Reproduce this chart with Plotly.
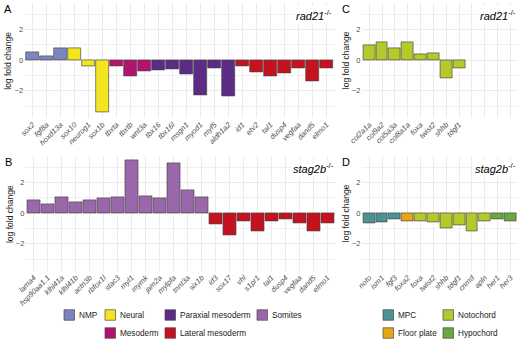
import plotly.graph_objects as go

W, H = 520, 342

# ---------------- data ----------------
a_genes = ["sox2", "fgf8a", "hoxd13a", "sox10", "neurog1", "sox1b", "tbxta", "tbxtb",
           "wnt3a", "tbx16", "tbx16l", "msgn1", "myod1", "myf5", "aldh1a2", "id1",
           "etv2", "tal1", "dusp4", "vegfaa", "dand5", "elmo1"]
a_lfc = [0.52, 0.26, 0.74, 0.78, -0.43, -3.43, -0.43, -1.07, -0.74, -0.70, -0.59,
         -0.91, -2.33, -0.52, -2.37, -0.43, -0.78, -1.04, -0.87, -0.52, -1.41, -0.54]
a_type = ["NMP", "NMP", "NMP", "Neural", "Neural", "Neural", "Mesoderm", "Mesoderm",
          "Mesoderm", "Paraxial mesoderm", "Paraxial mesoderm", "Paraxial mesoderm",
          "Paraxial mesoderm", "Paraxial mesoderm", "Paraxial mesoderm",
          "Lateral mesoderm", "Lateral mesoderm", "Lateral mesoderm", "Lateral mesoderm",
          "Lateral mesoderm", "Lateral mesoderm", "Lateral mesoderm"]

b_genes = ["lama4", "hsp90aa1.1", "klhl41a", "klhl41b", "actn3b", "rbfox1l", "stac3",
           "myl1", "mymk", "jam2a", "mylpfa", "tnnt3a", "six1b", "id3", "sox17", "vhl",
           "s1pr1", "tal1", "dusp4", "vegfaa", "dand5", "elmo1"]
b_lfc = [0.85, 0.59, 1.00, 0.72, 0.80, 0.96, 1.00, 3.41, 1.11, 0.98, 3.24, 1.46, 1.04,
         -0.72, -1.48, -0.54, -1.22, -0.52, -0.43, -0.70, -1.17, -0.65]
b_type = ["Somites", "Somites", "Somites", "Somites", "Somites", "Somites", "Somites",
          "Somites", "Somites", "Somites", "Somites", "Somites", "Somites",
          "Lateral mesoderm", "Lateral mesoderm", "Lateral mesoderm", "Lateral mesoderm",
          "Lateral mesoderm", "Lateral mesoderm", "Lateral mesoderm", "Lateral mesoderm",
          "Lateral mesoderm"]

c_genes = ["col2a1a", "col9a2", "col5a3a", "col8a1a", "foxa", "twist2", "shhb", "tdgf1"]
c_lfc = [0.98, 1.17, 0.74, 1.13, 0.39, 0.43, -1.22, -0.52]
c_type = ["Notochord", "Notochord", "Notochord", "Notochord", "Notochord", "Notochord",
          "Notochord", "Notochord"]

d_genes = ["noto", "ism1", "fgf3", "foxa2", "foxa", "twist2", "shhb", "tdgf1", "cnmd",
           "apln", "her1", "her3"]
d_lfc = [-0.65, -0.59, -0.43, -0.54, -0.52, -0.59, -1.00, -0.83, -1.22, -0.52, -0.43, -0.54]
d_type = ["MPC", "MPC", "MPC", "Floor plate", "Notochord", "Notochord", "Notochord",
          "Notochord", "Notochord", "Notochord", "Hypochord", "Hypochord"]

colors = {
    "NMP": "#7D85BF",
    "Neural": "#F3E51F",
    "Paraxial mesoderm": "#5C2B86",
    "Somites": "#9A68AA",
    "Mesoderm": "#B3126F",
    "Lateral mesoderm": "#C5121F",
    "MPC": "#4A9296",
    "Notochord": "#B6C92A",
    "Floor plate": "#E9A418",
    "Hypochord": "#6AA83E",
}

# legend layout: (label, x of key left in px, y centre in px)
legend_items = [
    ("NMP", 64, 315), ("Neural", 105, 315), ("Paraxial mesoderm", 165, 315),
    ("Somites", 257, 315), ("Mesoderm", 105, 333), ("Lateral mesoderm", 165, 333),
    ("MPC", 383, 315), ("Notochord", 443, 315), ("Floor plate", 383, 333),
    ("Hypochord", 443, 333),
]

FONT = "Liberation Sans, Arial, Helvetica, sans-serif"
YR = [-3.78, 3.7]
GRID = "#EBEBEB"


def px(x):
    return x / W


def py(y):
    return 1 - y / H


panels = [
    # name, genes, lfc, types, nslots, xdomain px, ydomain px (top, bottom), title
    ("A", a_genes, a_lfc, a_type, len(a_genes), (24.1, 334.9), (3.3, 118.0), "rad21"),
    ("B", b_genes, b_lfc, b_type, len(b_genes), (25.4, 336.0), (156.3, 271.0), "stag2b"),
    ("C", c_genes, c_lfc, c_type, len(d_genes), (361.5, 518.2), (3.3, 118.0), "rad21"),
    ("D", d_genes, d_lfc, d_type, len(d_genes), (361.5, 518.2), (156.3, 271.0), "stag2b"),
]

fig = go.Figure()
annotations = []
shapes = []

for i, (name, genes, lfc, types, nslots, xd, yd, title) in enumerate(panels):
    k = "" if i == 0 else str(i + 1)
    xs = list(range(len(genes)))
    fig.add_trace(go.Bar(
        x=xs, y=lfc, xaxis="x" + k, yaxis="y" + k,
        marker=dict(color=[colors[t] for t in types],
                    line=dict(color="rgba(70,70,70,0.85)", width=0.8)),
        width=0.92, showlegend=False,
        hovertext=genes,
    ))
    extra = list(range(len(genes), nslots))
    xminor = dict(tickmode="array", tickvals=extra, showgrid=True,
                  gridcolor=GRID, gridwidth=1, ticks="") if extra else dict(showgrid=False)
    fig.update_layout(**{
        "xaxis" + k: dict(
            domain=[px(xd[0]), px(xd[1])], anchor="y" + k,
            range=[-0.6, nslots - 0.4], tickmode="array",
            tickvals=xs, ticktext=["<i>%s</i>" % g for g in genes],
            tickangle=-45, tickfont=dict(family=FONT, size=7.5, color="#4D4D4D"),
            showgrid=True, gridcolor=GRID, gridwidth=1, minor=xminor,
            zeroline=False, showline=False, ticks="", fixedrange=True,
            automargin=False,
        ),
        "yaxis" + k: dict(
            domain=[py(yd[1]), py(yd[0])], anchor="x" + k,
            range=YR, tickmode="array", tickvals=[-2, 0, 2],
            tickfont=dict(family=FONT, size=7.5, color="#4D4D4D"),
            showgrid=True, gridcolor=GRID, gridwidth=1,
            minor=dict(tickmode="array", tickvals=[-3, -1, 1, 3], showgrid=True,
                       gridcolor="#F0F0F0", gridwidth=0.8, ticks=""),
            zeroline=False, showline=False, ticks="", fixedrange=True,
            automargin=False,
        ),
    })
    # panel letter
    annotations.append(dict(
        x=px(xd[0] - 22), y=py(yd[0] + 6), xref="paper", yref="paper",
        text=name, showarrow=False, xanchor="left", yanchor="middle",
        font=dict(family=FONT, size=11, color="#000000"),
    ))
    # y axis title
    annotations.append(dict(
        x=px(xd[0] - 16), y=py((yd[0] + yd[1]) / 2), xref="paper", yref="paper",
        text="log fold change", showarrow=False, textangle=-90,
        xanchor="center", yanchor="middle",
        font=dict(family=FONT, size=8.5, color="#1A1A1A"),
    ))
    # genotype title
    annotations.append(dict(
        x=px(xd[1] - 0.5), y=py(yd[0] + 11.5), xref="paper", yref="paper",
        text="<i>%s</i><sup>-/-</sup>" % title, showarrow=False,
        xanchor="right", yanchor="middle", bgcolor="white", borderpad=1,
        font=dict(family=FONT, size=11, color="#000000"),
    ))

# manual legend
KEY = 10.5
for label, kx, ky in legend_items:
    shapes.append(dict(
        type="rect", xref="paper", yref="paper",
        x0=px(kx), x1=px(kx + KEY), y0=py(ky + KEY / 2), y1=py(ky - KEY / 2),
        fillcolor=colors[label], line=dict(color="rgba(70,70,70,0.85)", width=0.8),
    ))
    annotations.append(dict(
        x=px(kx + KEY + 2.5), y=py(ky), xref="paper", yref="paper",
        text=label, showarrow=False, xanchor="left", yanchor="middle",
        font=dict(family=FONT, size=8.2, color="#1A1A1A"),
    ))

fig.update_layout(
    template="none",
    width=W, height=H, margin=dict(l=0, r=0, t=0, b=0, autoexpand=False),
    paper_bgcolor="white", plot_bgcolor="white",
    annotations=annotations, shapes=shapes, showlegend=False,
    bargap=0, font=dict(family=FONT, color="#1A1A1A"),
)

fig.write_html("out.html", config={"displayModeBar": False})
